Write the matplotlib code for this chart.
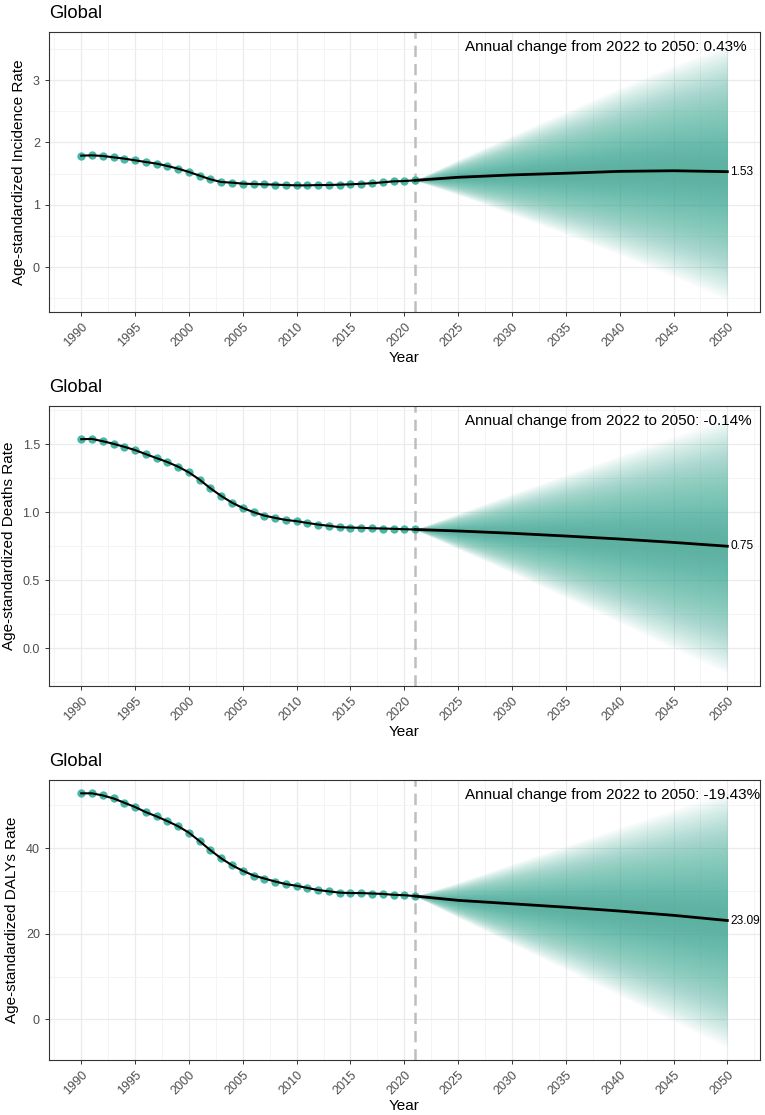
import matplotlib
matplotlib.use('Agg')
import matplotlib.pyplot as plt
from matplotlib.ticker import MultipleLocator, FormatStrFormatter

plt.rcParams['font.family'] = ['Liberation Sans', 'DejaVu Sans']

# observed years and forecast knots
years_hist = list(range(1990, 2022))
years_fc = [2021, 2025, 2030, 2035, 2040, 2045, 2050]

# age-standardized incidence rate
incidence_hist = [1.787, 1.792, 1.782, 1.760, 1.739, 1.712, 1.685, 1.659, 1.621, 1.578,
                  1.525, 1.466, 1.407, 1.364, 1.354, 1.338, 1.332, 1.327, 1.322, 1.316,
                  1.311, 1.311, 1.316, 1.316, 1.322, 1.327, 1.336, 1.345, 1.359, 1.375,
                  1.380, 1.391]
incidence_fc = [1.391, 1.44, 1.478, 1.505, 1.535, 1.545, 1.53]
incidence_lo = [1.391, 1.16, 0.85, 0.53, 0.20, -0.15, -0.52]
incidence_hi = [1.391, 1.72, 2.11, 2.49, 2.87, 3.23, 3.56]

# age-standardized deaths rate
deaths_hist = [1.536, 1.538, 1.521, 1.502, 1.480, 1.456, 1.426, 1.397, 1.368, 1.334,
               1.292, 1.238, 1.175, 1.119, 1.070, 1.031, 1.000, 0.975, 0.958, 0.943,
               0.934, 0.921, 0.909, 0.900, 0.890, 0.887, 0.885, 0.882, 0.880, 0.878,
               0.875, 0.873]
deaths_fc = [0.873, 0.862, 0.845, 0.825, 0.803, 0.778, 0.75]
deaths_lo = [0.873, 0.73, 0.555, 0.375, 0.19, 0.0, -0.18]
deaths_hi = [0.873, 0.99, 1.135, 1.275, 1.415, 1.555, 1.69]

# age-standardized DALYs rate
dalys_hist = [52.8, 52.8, 52.3, 51.6, 50.6, 49.6, 48.4, 47.4, 46.3, 45.1,
              43.6, 41.6, 39.5, 37.6, 36.0, 34.7, 33.6, 32.9, 32.2, 31.6,
              31.2, 30.7, 30.2, 29.9, 29.6, 29.5, 29.5, 29.4, 29.3, 29.1,
              29.0, 28.8]
dalys_fc = [28.8, 27.8, 27.0, 26.2, 25.3, 24.3, 23.09]
dalys_lo = [28.8, 23.8, 17.7, 11.7, 5.6, -0.5, -6.5]
dalys_hi = [28.8, 32.0, 36.3, 40.5, 44.8, 48.9, 53.0]

ylabels = ['Age-standardized Incidence Rate', 'Age-standardized Deaths Rate',
           'Age-standardized DALYs Rate']
changes = ['Annual change from 2022 to 2050: 0.43%',
           'Annual change from 2022 to 2050: -0.14%',
           'Annual change from 2022 to 2050: -19.43%']

TEAL = '#3DB39E'
FAN = '#44B29C'


def draw_panel(ax, hist, fc, lo, hi, ylabel, change, ylim, ystep, yfmt):
    ax.set_xlim(1987, 2053)
    ax.set_ylim(*ylim)
    ax.xaxis.set_major_locator(MultipleLocator(5))
    ax.xaxis.set_minor_locator(MultipleLocator(2.5))
    ax.yaxis.set_major_locator(MultipleLocator(ystep))
    ax.yaxis.set_minor_locator(MultipleLocator(ystep / 2))
    ax.yaxis.set_major_formatter(FormatStrFormatter(yfmt))
    ax.set_axisbelow(True)
    ax.grid(which='major', color='#EBEBEB', lw=0.9)
    ax.grid(which='minor', color='#F3F3F3', lw=0.6)
    ax.tick_params(which='minor', length=0)
    ax.tick_params(which='major', length=3, width=0.7, color='#333333',
                   labelsize=9, labelcolor='#4D4D4D')
    for sp in ax.spines.values():
        sp.set_color('#333333')
        sp.set_linewidth(0.8)
    for lab in ax.get_xticklabels():
        lab.set_rotation(45)
        lab.set_ha('right')
        lab.set_va('top')
        lab.set_rotation_mode('anchor')

    # fan of prediction intervals, fading to the outer bound
    n = 60
    for i in range(n):
        f = (i + 1) / n
        low = [m - f * (m - l) for m, l in zip(fc, lo)]
        high = [m + f * (h - m) for m, h in zip(fc, hi)]
        ax.fill_between(years_fc, low, high, color=FAN, alpha=0.026, lw=0)

    ax.plot(years_hist, hist, 'o', ms=6, color=TEAL, alpha=0.95, mew=0, zorder=3)
    ax.plot(years_hist, hist, color='black', lw=1.5, zorder=4)
    ax.plot(years_fc, fc, color='black', lw=2.0, zorder=4)
    ax.axvline(2021, color='#BEBEBE', lw=1.8, ls=(0, (4.5, 2.8)), zorder=2)

    ax.text(2050.25, fc[-1], f'{fc[-1]:.2f}', ha='left', va='center', fontsize=8.6, zorder=5)
    ax.text(2025.6, 0.945, change, transform=ax.get_xaxis_transform(),
            ha='left', va='center', fontsize=11)
    ax.set_title('Global', loc='left', fontsize=13.2, pad=10)
    ax.set_ylabel(ylabel, fontsize=11, labelpad=5)
    ax.set_xlabel('Year', fontsize=11, labelpad=1)


fig = plt.figure(figsize=(7.65, 11.15), dpi=100)
ax1 = fig.add_axes([0.064, 0.7202, 0.929, 0.2511])
ax2 = fig.add_axes([0.064, 0.3848, 0.929, 0.2511])
ax3 = fig.add_axes([0.064, 0.0493, 0.929, 0.2511])

draw_panel(ax1, incidence_hist, incidence_fc, incidence_lo, incidence_hi,
           ylabels[0], changes[0], (-0.72, 3.77), 1, '%g')
draw_panel(ax2, deaths_hist, deaths_fc, deaths_lo, deaths_hi,
           ylabels[1], changes[1], (-0.276, 1.78), 0.5, '%.1f')
draw_panel(ax3, dalys_hist, dalys_fc, dalys_lo, dalys_hi,
           ylabels[2], changes[2], (-9.5, 55.9), 20, '%g')

fig.savefig('out.png', dpi=100)
